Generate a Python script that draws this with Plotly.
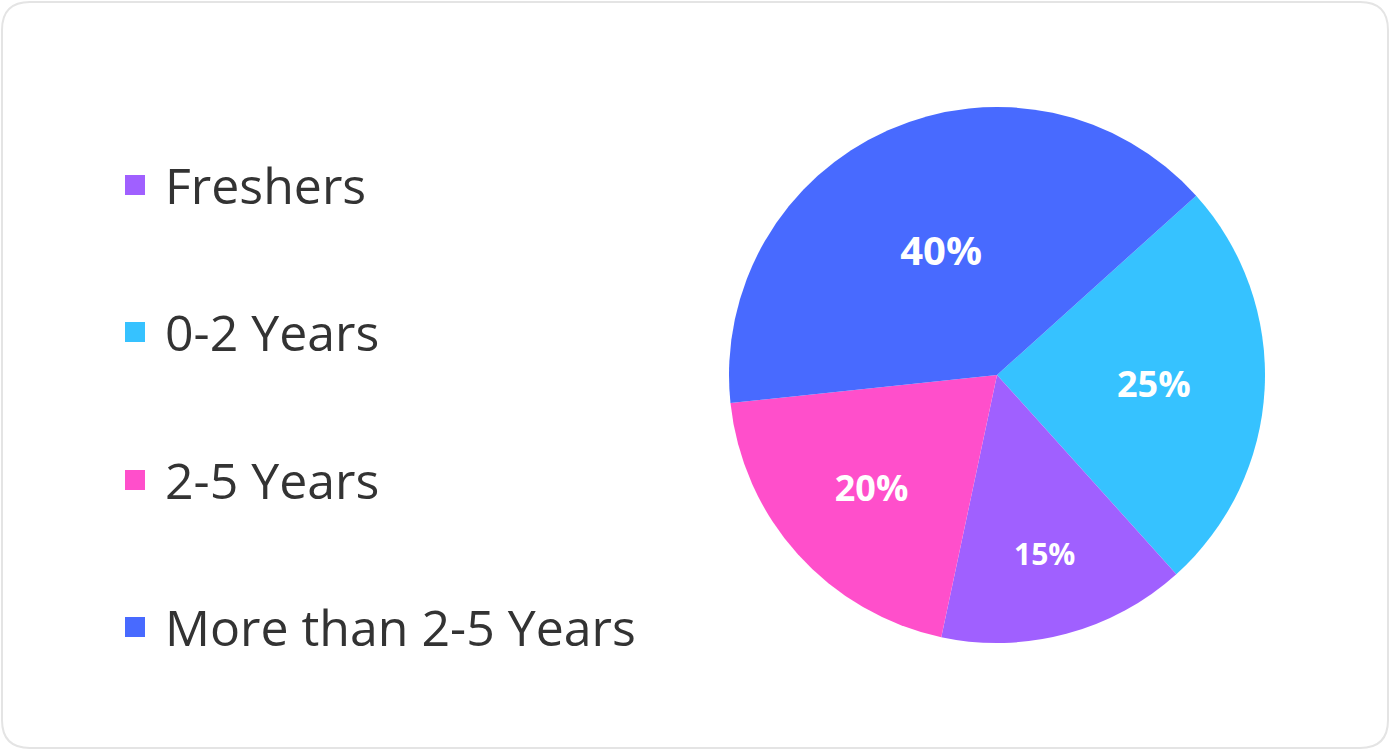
import plotly.graph_objects as go

categories = ["Freshers", "0-2 Years", "2-5 Years", "More than 2-5 Years"]
values = [15, 25, 20, 40]
colors = ["#A060FF", "#36C2FF", "#FF4FCB", "#486AFF"]
label_sizes = [30, 36, 36, 40]
pie_order = [1, 0, 2, 3]  # clockwise slice order, starting from upper right

W, H = 1390, 750

fig = go.Figure()
fig.add_trace(go.Pie(
    labels=[categories[i] for i in pie_order],
    values=[values[i] for i in pie_order],
    sort=False,
    direction="clockwise",
    rotation=48,
    marker=dict(colors=[colors[i] for i in pie_order], line=dict(width=0)),
    texttemplate="%{percent:.0%}",
    textposition="inside",
    insidetextorientation="horizontal",
    textfont=dict(family="Open Sans", size=[label_sizes[i] for i in pie_order],
                  color="white", weight="bold"),
    hoverinfo="label+percent",
    showlegend=False,
    domain=dict(x=[(997 - 268) / W, (997 + 268) / W], y=[(H - 375 - 268) / H, (H - 375 + 268) / H]),
))

# card border (rounded rectangle)
x0, y0, x1, y1, r = 2, 2, 1388, 748, 28
def px(x): return x / W
def py(y): return 1 - y / H
path = (
    f"M {px(x0 + r)} {py(y0)} L {px(x1 - r)} {py(y0)} Q {px(x1)} {py(y0)} {px(x1)} {py(y0 + r)} "
    f"L {px(x1)} {py(y1 - r)} Q {px(x1)} {py(y1)} {px(x1 - r)} {py(y1)} "
    f"L {px(x0 + r)} {py(y1)} Q {px(x0)} {py(y1)} {px(x0)} {py(y1 - r)} "
    f"L {px(x0)} {py(y0 + r)} Q {px(x0)} {py(y0)} {px(x0 + r)} {py(y0)} Z"
)
shapes = [dict(type="path", xref="paper", yref="paper", path=path,
               line=dict(color="#E4E4E4", width=2), fillcolor="rgba(0,0,0,0)", layer="below")]

annotations = []
row_y = [185, 332, 480, 627]
for cat, col, yy in zip(categories, colors, row_y):
    shapes.append(dict(type="rect", xref="paper", yref="paper",
                       x0=px(125), x1=px(145), y0=py(yy - 10), y1=py(yy + 10),
                       fillcolor=col, line=dict(width=0)))
    annotations.append(dict(text=cat, xref="paper", yref="paper", x=px(163), y=py(yy),
                            xanchor="left", yanchor="middle", showarrow=False,
                            font=dict(family="Open Sans", size=50, color="#333333")))

fig.update_layout(
    width=W, height=H,
    margin=dict(l=0, r=0, t=0, b=0),
    paper_bgcolor="white",
    plot_bgcolor="white",
    shapes=shapes,
    annotations=annotations,
)

fig.write_html("out.html", config={"displayModeBar": False},
               post_script="document.body.style.margin='0';document.body.style.overflow='hidden';")
